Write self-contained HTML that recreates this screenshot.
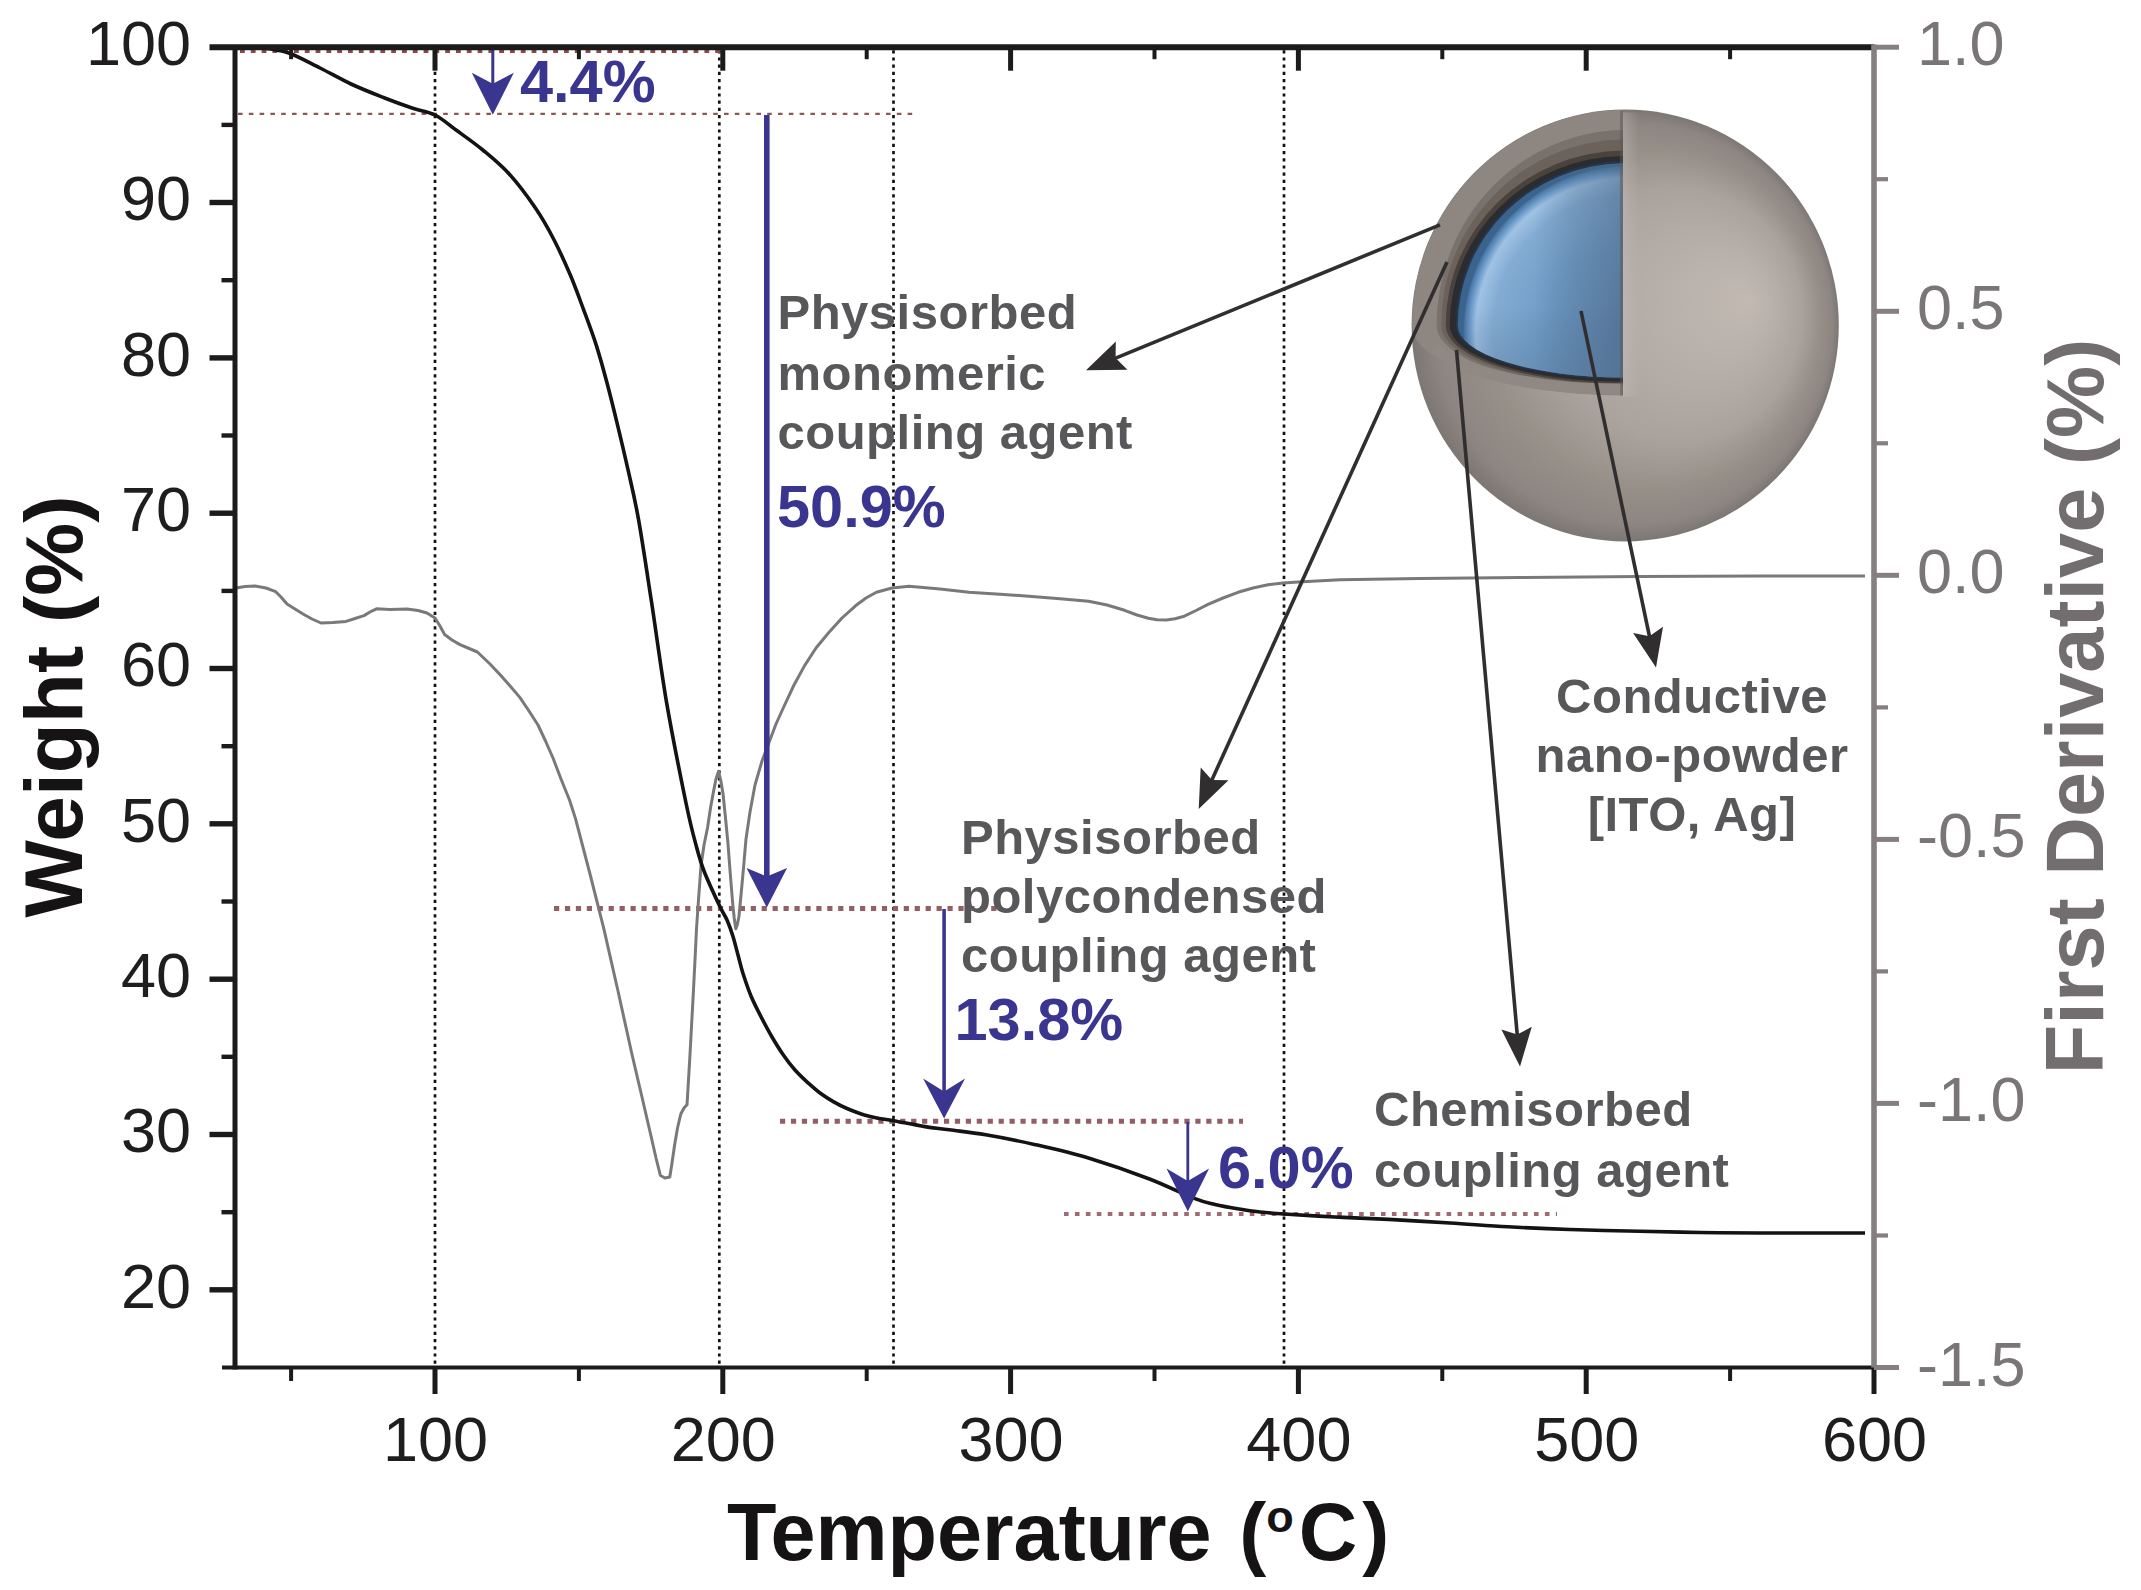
<!DOCTYPE html>
<html lang="en"><head><meta charset="utf-8"><title>TGA of coated conductive nano-powder</title>
<style>html,body{margin:0;padding:0;background:#fff;overflow:hidden}svg{display:block}text{font-family:"Liberation Sans",Arial,Helvetica,sans-serif}</style></head><body>
<svg width="2141" height="1590" viewBox="0 0 2141 1590" role="img" aria-label="TGA weight loss and first derivative curves with core-shell particle sketch">
<rect width="2141" height="1590" fill="#fff"/>
<defs>
<radialGradient id="gShell" gradientUnits="userSpaceOnUse" cx="1625.2" cy="325.5" r="213.6" fx="1750.2" fy="300.5" gradientTransform="translate(0 -3.66) scale(1 1.01124)">
<stop offset="0" stop-color="#c1b9b2"/><stop offset="0.3" stop-color="#b6aea8"/><stop offset="0.58" stop-color="#aaa29c"/><stop offset="0.78" stop-color="#979089"/><stop offset="0.93" stop-color="#8c8581"/><stop offset="1" stop-color="#7d7773"/></radialGradient>
<radialGradient id="gCore" gradientUnits="userSpaceOnUse" cx="1629.2" cy="331.5" r="166">
<stop offset="0" stop-color="#6389b2"/><stop offset="0.5" stop-color="#6f9bc6"/><stop offset="0.82" stop-color="#84acd3"/><stop offset="0.925" stop-color="#9fc2e4"/><stop offset="0.96" stop-color="#6d9ccb"/><stop offset="0.99" stop-color="#4c7aa8"/><stop offset="1" stop-color="#3a638e"/></radialGradient>
<linearGradient id="gCoreShade" gradientUnits="userSpaceOnUse" x1="1459.2" y1="0" x2="1625.2" y2="0">
<stop offset="0" stop-color="#4f6d8d" stop-opacity="0"/><stop offset="0.45" stop-color="#4f6d8d" stop-opacity="0"/><stop offset="0.7" stop-color="#4f6d8d" stop-opacity="0.32"/><stop offset="1" stop-color="#4c6682" stop-opacity="0.58"/></linearGradient>
<linearGradient id="gCoreShadeV" gradientUnits="userSpaceOnUse" x1="0" y1="305.5" x2="0" y2="379.5">
<stop offset="0" stop-color="#4a6788" stop-opacity="0"/><stop offset="1" stop-color="#4a6788" stop-opacity="0.35"/></linearGradient>
<linearGradient id="gStrip" gradientUnits="userSpaceOnUse" x1="1623.0" y1="0" x2="1639.0" y2="0">
<stop offset="0" stop-color="#cbc5c2" stop-opacity="0.35"/><stop offset="1" stop-color="#cbc5c2" stop-opacity="0"/></linearGradient>
</defs>
<ellipse cx="1625.2" cy="325.5" rx="213.6" ry="216.0" fill="url(#gShell)"/>
<path d="M1623.0 109.9 A213.2 215.6 0 0 0 1412.0 325.5 A213.2 69.9 0 0 0 1623.0 395.4 Z" fill="#8d8681"/>
<path d="M1623.0 130.0 A188.5 195.5 0 0 0 1436.7 325.5 A188.5 61.5 0 0 0 1623.0 387.0 Z" fill="#79716b"/>
<path d="M1623.0 139.5 A184.0 186.0 0 0 0 1441.2 325.5 A184.0 59.8 0 0 0 1623.0 385.3 Z" fill="#6b625c"/>
<path d="M1623.0 150.5 A179.5 175.0 0 0 0 1445.7 325.5 A179.5 58.0 0 0 0 1623.0 383.5 Z" fill="#4a423d"/>
<path d="M1623.0 156.0 A175.5 169.5 0 0 0 1449.7 325.5 A175.5 56.3 0 0 0 1623.0 381.8 Z" fill="#2b2c30"/>
<path d="M1623.0 161.0 A169.5 164.5 0 0 0 1455.7 325.5 A169.5 53.6 0 0 0 1623.0 379.1 Z" fill="#25354a"/>
<path d="M1623.0 163.2 A167.5 162.3 0 0 0 1457.7 325.5 A167.5 52.1 0 0 0 1623.0 377.6 Z" fill="url(#gCore)"/>
<path d="M1623.0 163.2 A167.5 162.3 0 0 0 1457.7 325.5 A167.5 52.1 0 0 0 1623.0 377.6 Z" fill="url(#gCoreShade)"/>
<path d="M1623.0 163.2 A167.5 162.3 0 0 0 1457.7 325.5 A167.5 52.1 0 0 0 1623.0 377.6 Z" fill="url(#gCoreShadeV)"/>
<path d="M1433.2 347.5 A197.0 67.0 0 0 0 1622.0 389.0" fill="none" stroke="#8f8883" stroke-width="11"/>
<rect x="1623.0" y="112.5" width="16" height="284.0" fill="url(#gStrip)"/>
<line x1="1621.5" y1="110.5" x2="1621.5" y2="395.5" stroke="#5d5752" stroke-width="3" stroke-opacity="0.5"/>
<line x1="435.0" y1="50.2" x2="435.0" y2="1365.5" stroke="#111" stroke-width="2.7" stroke-dasharray="3.2 4"/>
<line x1="719.3" y1="50.2" x2="719.3" y2="1365.5" stroke="#111" stroke-width="2.7" stroke-dasharray="3.2 4"/>
<line x1="893.5" y1="50.2" x2="893.5" y2="1365.5" stroke="#111" stroke-width="2.7" stroke-dasharray="3.2 4"/>
<line x1="1284.0" y1="50.2" x2="1284.0" y2="1365.5" stroke="#111" stroke-width="2.7" stroke-dasharray="3.2 4"/>
<line x1="240" y1="51.2" x2="721" y2="51.2" stroke="#8a4a4a" stroke-width="3.6" stroke-dasharray="4.8 6"/>
<line x1="238" y1="113.8" x2="915" y2="113.8" stroke="#8a5a56" stroke-width="2.3" stroke-dasharray="4.6 6.2"/>
<line x1="554" y1="908.4" x2="1001" y2="908.4" stroke="#935f66" stroke-width="5" stroke-dasharray="5.2 5.73"/>
<line x1="780" y1="1121.2" x2="1243" y2="1121.2" stroke="#935f66" stroke-width="5" stroke-dasharray="5.2 5.73"/>
<line x1="1064" y1="1214" x2="1557" y2="1214" stroke="#a06a72" stroke-width="3.8" stroke-dasharray="4.6 6.33"/>
<path d="M236.0 588.0L245.0 586.5L255.0 586.0L266.0 588.0L275.7 591.7L281.0 597.0L287.0 604.0L295.0 609.0L303.0 614.0L312.0 619.0L321.0 623.0L333.0 622.5L346.0 621.4L355.0 618.5L364.0 615.6L370.0 612.0L376.5 608.8L390.0 609.5L407.0 609.0L418.0 610.5L427.0 613.0L435.0 618.0L440.0 626.0L444.6 634.5L452.0 640.0L460.0 644.6L468.0 648.0L477.4 652.0L490.0 664.0L502.6 677.4L511.0 687.0L520.0 697.6L529.0 711.0L538.0 725.0L545.5 741.0L553.0 758.0L561.0 779.0L569.5 800.0L575.5 818.6L590.0 874.0L603.8 928.7L618.0 991.0L632.0 1054.5L641.5 1095.0L651.0 1136.0L656.0 1158.0L660.4 1175.5L665.0 1178.0L669.8 1177.0L672.0 1163.0L674.5 1145.7L677.5 1128.0L680.8 1114.0L684.0 1108.0L687.0 1104.8L688.5 1080.0L690.0 1054.5L691.7 1023.0L693.4 991.6L695.0 960.0L696.5 928.7L698.7 897.0L701.0 865.8L704.0 845.0L707.5 828.0L710.5 808.0L713.8 790.0L716.0 779.0L718.5 771.4L720.7 780.0L723.0 793.5L725.5 818.0L728.0 843.8L730.3 874.0L732.7 903.5L734.2 918.0L735.8 928.7L737.5 924.0L739.0 916.0L741.3 892.0L743.7 865.8L746.0 839.0L750.0 812.0L755.0 785.0L762.0 761.0L768.8 743.0L776.0 724.0L783.7 707.0L794.0 685.0L804.6 665.6L816.0 648.0L828.6 632.7L842.0 618.0L855.5 605.8L866.0 598.0L876.4 592.3L892.0 588.0L909.0 586.3L940.0 589.0L969.0 592.3L1000.0 594.3L1028.8 596.2L1060.0 598.7L1088.6 601.3L1107.0 605.0L1124.5 610.3L1137.0 615.0L1148.4 618.3L1157.0 619.8L1166.4 620.0L1175.0 618.8L1184.3 616.2L1196.0 610.5L1208.0 604.3L1223.0 598.0L1238.0 592.3L1253.0 588.0L1268.0 584.8L1283.0 583.0L1298.0 581.9L1340.0 579.8L1420.0 578.5L1520.0 577.5L1640.0 576.5L1760.0 576.0L1865.0 576.0" fill="none" stroke="#7b7879" stroke-width="3" stroke-linejoin="round" stroke-linecap="butt"/>
<path d="M236.0 47.5C240.3 47.6 253.3 47.1 262.0 48.0C270.7 48.9 278.3 49.5 288.0 52.8C297.7 56.1 309.5 62.8 320.0 68.0C330.5 73.2 340.3 79.0 351.0 84.0C361.7 89.0 373.8 93.7 384.0 97.7C394.2 101.7 403.5 105.1 412.0 108.0C420.5 110.9 427.6 111.3 435.0 115.0C442.4 118.7 448.4 124.5 456.4 130.3C464.4 136.1 474.0 142.7 482.8 150.0C491.6 157.3 500.4 164.3 509.2 174.0C518.0 183.7 528.1 197.3 535.6 208.3C543.1 219.3 548.4 229.0 554.1 240.0C559.8 251.0 565.1 262.9 570.0 274.3C574.9 285.7 578.8 296.7 583.2 308.6C587.6 320.5 592.5 333.3 596.4 345.6C600.3 357.9 603.4 369.3 606.9 382.5C610.4 395.7 614.0 410.3 617.5 424.8C621.0 439.3 624.5 453.9 628.0 469.7C631.5 485.5 634.7 497.9 638.6 519.9C642.5 541.9 646.8 571.3 651.5 601.8C656.2 632.2 660.9 669.1 666.6 702.6C672.4 736.1 681.1 779.3 686.0 803.0C690.9 826.7 692.9 833.5 696.0 845.0C699.1 856.5 700.4 861.7 704.4 872.0C708.4 882.3 716.2 898.7 720.0 906.7C723.8 914.7 724.8 915.0 727.0 920.0C729.2 925.0 731.2 930.7 733.0 936.5C734.8 942.3 736.3 948.8 738.0 955.0C739.7 961.2 740.8 966.7 743.0 973.5C745.2 980.3 748.0 988.8 751.0 996.0C754.0 1003.2 757.5 1009.9 761.0 1016.7C764.5 1023.5 768.3 1030.7 772.0 1037.0C775.7 1043.3 779.2 1049.0 783.0 1054.5C786.8 1060.0 790.8 1065.3 795.0 1070.0C799.2 1074.7 803.8 1079.0 808.0 1082.8C812.2 1086.6 815.8 1089.9 820.0 1093.0C824.2 1096.1 828.8 1099.0 833.3 1101.6C837.8 1104.2 841.8 1106.3 847.0 1108.5C852.2 1110.7 859.1 1113.4 864.3 1115.0C869.5 1116.6 873.1 1117.2 878.0 1118.2C882.9 1119.2 885.6 1119.3 893.4 1120.7C901.2 1122.1 915.7 1125.1 925.0 1126.6C934.3 1128.1 939.2 1128.4 949.3 1129.8C959.4 1131.2 971.5 1132.4 985.7 1134.8C999.9 1137.2 1016.9 1140.5 1034.3 1144.4C1051.7 1148.4 1070.8 1152.7 1090.0 1158.5C1109.2 1164.3 1132.1 1172.3 1149.5 1179.0C1166.9 1185.7 1183.4 1194.2 1194.3 1198.4C1205.2 1202.7 1207.5 1202.7 1215.0 1204.5C1222.5 1206.3 1231.5 1207.8 1239.0 1209.0C1246.5 1210.2 1252.5 1211.2 1260.0 1212.0C1267.5 1212.8 1271.5 1213.2 1284.0 1214.0C1296.5 1214.8 1317.6 1216.1 1335.0 1217.0C1352.4 1217.9 1369.4 1218.4 1388.6 1219.4C1407.8 1220.4 1430.1 1221.8 1450.0 1223.0C1469.9 1224.2 1488.0 1225.7 1508.0 1226.8C1528.0 1227.9 1548.0 1228.8 1570.0 1229.5C1592.0 1230.2 1618.3 1230.8 1640.0 1231.3C1661.7 1231.8 1680.0 1232.2 1700.0 1232.5C1720.0 1232.8 1732.5 1232.9 1760.0 1233.0C1787.5 1233.1 1847.5 1233.0 1865.0 1233.0" fill="none" stroke="#141212" stroke-width="3.6" stroke-linejoin="round"/>
<line x1="492.8" y1="50" x2="492.8" y2="90" stroke="#3a3690" stroke-width="3"/>
<polygon points="492.8,114.8 471.8,72.8 492.8,83.8 513.8,72.8" fill="#3a3690"/>
<line x1="766.8" y1="115" x2="766.8" y2="885" stroke="#3a3690" stroke-width="5.6"/>
<polygon points="766.8,907.5 746.5,868.0 766.8,876.5 787.1,868.0" fill="#3a3690"/>
<line x1="944.1" y1="909" x2="944.1" y2="1100" stroke="#3a3690" stroke-width="3.6"/>
<polygon points="944.1,1118.5 923.1,1078.5 944.1,1091.5 965.1,1078.5" fill="#3a3690"/>
<line x1="1187.8" y1="1122" x2="1187.8" y2="1188" stroke="#3a3690" stroke-width="2.8"/>
<polygon points="1187.8,1211.5 1166.5,1168.5 1187.8,1181.0 1209.1,1168.5" fill="#3a3690"/>
<line x1="1440.0" y1="224.8" x2="1112.6" y2="359.4" stroke="#302e2f" stroke-width="3.6"/><polygon points="1086.0,370.3 1115.8,341.5 1115.6,358.1 1127.4,369.8" fill="#302e2f"/>
<line x1="1447.0" y1="262.0" x2="1210.6" y2="782.8" stroke="#302e2f" stroke-width="3.6"/><polygon points="1198.7,809.0 1200.7,767.6 1211.9,779.9 1228.5,780.3" fill="#302e2f"/>
<line x1="1456.5" y1="350.0" x2="1517.5" y2="1037.8" stroke="#302e2f" stroke-width="3.6"/><polygon points="1520.0,1066.5 1501.4,1029.5 1517.2,1034.6 1531.8,1026.8" fill="#302e2f"/>
<line x1="1581.0" y1="311.0" x2="1650.1" y2="639.3" stroke="#302e2f" stroke-width="3.6"/><polygon points="1656.0,667.5 1633.1,633.0 1649.4,636.2 1663.0,626.7" fill="#302e2f"/>
<g stroke="#1c1a1a" stroke-linecap="butt">
<line x1="235.0" y1="47.2" x2="235.0" y2="1369.5" stroke-width="5"/>
<line x1="209.5" y1="47.2" x2="1874.0" y2="47.2" stroke-width="6"/>
<line x1="222.0" y1="1367.5" x2="1874.0" y2="1367.5" stroke-width="4"/>
<line x1="209.5" y1="1289.8" x2="235.0" y2="1289.8" stroke-width="5.4"/>
<line x1="221.5" y1="1212.2" x2="235.0" y2="1212.2" stroke-width="4.4"/>
<line x1="209.5" y1="1134.5" x2="235.0" y2="1134.5" stroke-width="5.4"/>
<line x1="221.5" y1="1056.8" x2="235.0" y2="1056.8" stroke-width="4.4"/>
<line x1="209.5" y1="979.2" x2="235.0" y2="979.2" stroke-width="5.4"/>
<line x1="221.5" y1="901.5" x2="235.0" y2="901.5" stroke-width="4.4"/>
<line x1="209.5" y1="823.8" x2="235.0" y2="823.8" stroke-width="5.4"/>
<line x1="221.5" y1="746.2" x2="235.0" y2="746.2" stroke-width="4.4"/>
<line x1="209.5" y1="668.5" x2="235.0" y2="668.5" stroke-width="5.4"/>
<line x1="221.5" y1="590.9" x2="235.0" y2="590.9" stroke-width="4.4"/>
<line x1="209.5" y1="513.2" x2="235.0" y2="513.2" stroke-width="5.4"/>
<line x1="221.5" y1="435.5" x2="235.0" y2="435.5" stroke-width="4.4"/>
<line x1="209.5" y1="357.9" x2="235.0" y2="357.9" stroke-width="5.4"/>
<line x1="221.5" y1="280.2" x2="235.0" y2="280.2" stroke-width="4.4"/>
<line x1="209.5" y1="202.5" x2="235.0" y2="202.5" stroke-width="5.4"/>
<line x1="221.5" y1="124.9" x2="235.0" y2="124.9" stroke-width="4.4"/>
<line x1="291.1" y1="1367.5" x2="291.1" y2="1381.0" stroke-width="4"/>
<line x1="291.1" y1="47.2" x2="291.1" y2="59.2" stroke-width="4"/>
<line x1="435.0" y1="1367.5" x2="435.0" y2="1394.0" stroke-width="5"/>
<line x1="435.0" y1="47.2" x2="435.0" y2="70.7" stroke-width="5"/>
<line x1="578.9" y1="1367.5" x2="578.9" y2="1381.0" stroke-width="4"/>
<line x1="578.9" y1="47.2" x2="578.9" y2="59.2" stroke-width="4"/>
<line x1="722.8" y1="1367.5" x2="722.8" y2="1394.0" stroke-width="5"/>
<line x1="722.8" y1="47.2" x2="722.8" y2="70.7" stroke-width="5"/>
<line x1="866.7" y1="1367.5" x2="866.7" y2="1381.0" stroke-width="4"/>
<line x1="866.7" y1="47.2" x2="866.7" y2="59.2" stroke-width="4"/>
<line x1="1010.6" y1="1367.5" x2="1010.6" y2="1394.0" stroke-width="5"/>
<line x1="1010.6" y1="47.2" x2="1010.6" y2="70.7" stroke-width="5"/>
<line x1="1154.5" y1="1367.5" x2="1154.5" y2="1381.0" stroke-width="4"/>
<line x1="1154.5" y1="47.2" x2="1154.5" y2="59.2" stroke-width="4"/>
<line x1="1298.4" y1="1367.5" x2="1298.4" y2="1394.0" stroke-width="5"/>
<line x1="1298.4" y1="47.2" x2="1298.4" y2="70.7" stroke-width="5"/>
<line x1="1442.3" y1="1367.5" x2="1442.3" y2="1381.0" stroke-width="4"/>
<line x1="1442.3" y1="47.2" x2="1442.3" y2="59.2" stroke-width="4"/>
<line x1="1586.2" y1="1367.5" x2="1586.2" y2="1394.0" stroke-width="5"/>
<line x1="1586.2" y1="47.2" x2="1586.2" y2="70.7" stroke-width="5"/>
<line x1="1730.1" y1="1367.5" x2="1730.1" y2="1381.0" stroke-width="4"/>
<line x1="1730.1" y1="47.2" x2="1730.1" y2="59.2" stroke-width="4"/>
<line x1="1874.0" y1="1367.5" x2="1874.0" y2="1394.0" stroke-width="5"/>
</g>
<g stroke="#857f80">
<line x1="1874.0" y1="44.4" x2="1874.0" y2="1367.5" stroke-width="5.6"/>
<line x1="1874.0" y1="47.2" x2="1899.0" y2="47.2" stroke-width="5"/>
<line x1="1874.0" y1="179.2" x2="1888.0" y2="179.2" stroke-width="4.2"/>
<line x1="1874.0" y1="311.3" x2="1899.0" y2="311.3" stroke-width="5"/>
<line x1="1874.0" y1="443.3" x2="1888.0" y2="443.3" stroke-width="4.2"/>
<line x1="1874.0" y1="575.3" x2="1899.0" y2="575.3" stroke-width="5"/>
<line x1="1874.0" y1="707.4" x2="1888.0" y2="707.4" stroke-width="4.2"/>
<line x1="1874.0" y1="839.4" x2="1899.0" y2="839.4" stroke-width="5"/>
<line x1="1874.0" y1="971.4" x2="1888.0" y2="971.4" stroke-width="4.2"/>
<line x1="1874.0" y1="1103.4" x2="1899.0" y2="1103.4" stroke-width="5"/>
<line x1="1874.0" y1="1235.5" x2="1888.0" y2="1235.5" stroke-width="4.2"/>
<line x1="1874.0" y1="1367.5" x2="1899.0" y2="1367.5" stroke-width="5"/>
</g>
<g font-size="63" fill="#1f1d1d" text-anchor="end">
<text x="191" y="1307.6">20</text>
<text x="191" y="1152.3">30</text>
<text x="191" y="997.0">40</text>
<text x="191" y="841.6">50</text>
<text x="191" y="686.3">60</text>
<text x="191" y="531.0">70</text>
<text x="191" y="375.7">80</text>
<text x="191" y="220.3">90</text>
<text x="191" y="65.0">100</text>
</g>
<g font-size="63" fill="#1f1d1d" text-anchor="middle">
<text x="435.5" y="1461">100</text>
<text x="723.3" y="1461">200</text>
<text x="1011.1" y="1461">300</text>
<text x="1298.9" y="1461">400</text>
<text x="1586.7" y="1461">500</text>
<text x="1874.5" y="1461">600</text>
</g>
<g font-size="63" fill="#7a7677" text-anchor="start">
<text x="1917" y="65.2">1.0</text>
<text x="1917" y="329.3">0.5</text>
<text x="1917" y="593.3">0.0</text>
<text x="1917" y="857.4">-0.5</text>
<text x="1917" y="1121.4">-1.0</text>
<text x="1917" y="1385.5">-1.5</text>
</g>
<text transform="translate(82 706.5) rotate(-90)" text-anchor="middle" font-size="82" font-weight="bold" fill="#151313">Weight (%)</text>
<text transform="translate(2103 706.5) rotate(-90)" text-anchor="middle" font-size="81.2" font-weight="bold" fill="#726e6f">First Derivative (%)</text>
<text x="727" y="1560" font-size="81" font-weight="bold" fill="#151313">Temperature <tspan dx="5">(</tspan><tspan font-size="45" dy="-28">o</tspan><tspan dy="28" dx="5">C</tspan><tspan dx="5">)</tspan></text>
<g font-size="49" font-weight="bold" letter-spacing="0.5" fill="#58585a">
<text x="777.5" y="329">Physisorbed</text>
<text x="777.5" y="389.5">monomeric</text>
<text x="777.5" y="449">coupling agent</text>
<text x="961" y="854">Physisorbed</text>
<text x="961" y="912.5">polycondensed</text>
<text x="961" y="972">coupling agent</text>
<text x="1374" y="1125.5">Chemisorbed</text>
<text x="1374" y="1186.5">coupling agent</text>
<text x="1692" y="713" text-anchor="middle">Conductive</text>
<text x="1692" y="771.5" text-anchor="middle">nano-powder</text>
<text x="1692" y="831" text-anchor="middle">[ITO, Ag]</text>
</g>
<g font-size="59.5" font-weight="bold" fill="#3a3690">
<text x="520" y="102">4.4%</text>
<text x="777" y="526.5">50.9%</text>
<text x="954.5" y="1040">13.8%</text>
<text x="1218" y="1188">6.0%</text>
</g>
</svg></body></html>
